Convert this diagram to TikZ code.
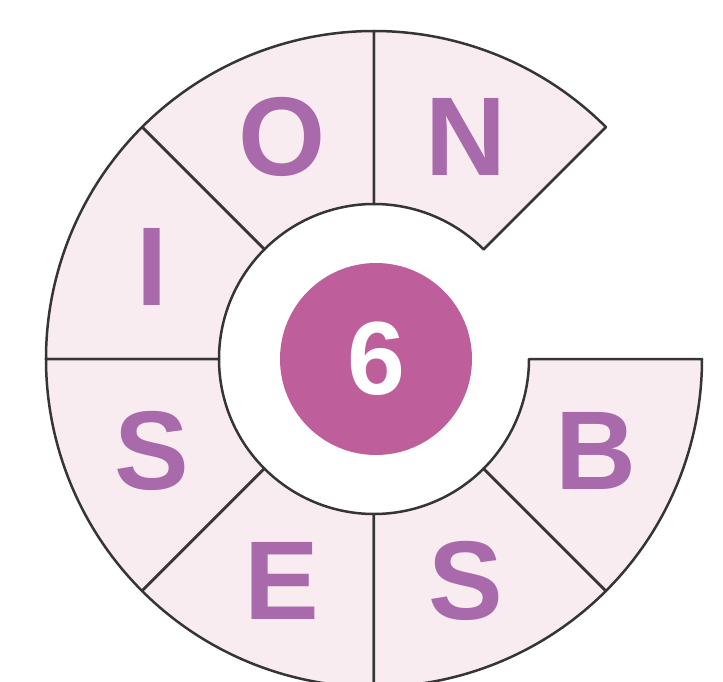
\documentclass[tikz,border=0pt]{standalone}
\usepackage{fontspec}
\setmainfont{Liberation Sans}
\definecolor{segfill}{HTML}{F8ECF0}
\definecolor{letterpurple}{HTML}{A86AAA}
\definecolor{hubpink}{HTML}{BE5F9C}
\definecolor{edgegray}{HTML}{353535}
\begin{document}
\begin{tikzpicture}[x=1pt,y=1pt,
  segment/.style={draw=edgegray, line width=2.5pt, fill=segfill, line join=round},
  letter/.style={text=letterpurple, font=\fontsize{112}{112}\selectfont\bfseries, inner sep=0pt},
  hub/.style={circle, fill=hubpink, minimum size=192pt, inner sep=0pt, text=white,
    font=\fontsize{104}{104}\selectfont\bfseries}]
\useasboundingbox (-374,-322) rectangle (349,359);
% ring of letter segments, gap between 0 and 45 degrees
\foreach \a in {45,90,...,315}
  \draw[segment] (\a:155) -- (\a:328)
    arc[start angle=\a, end angle=\a+45, radius=328]
    -- (\a+45:155)
    arc[start angle=\a+45, end angle=\a, radius=155] -- cycle;
% letters
\foreach \a/\l/\n in {45/N/n, 90/O/o, 135/I/i, 180/S/sa, 225/E/e, 270/S/sb, 315/B/b}
  \node[letter] (let-\n) at (\a+22.5:240) {\l};
% centre
\node[hub] (hub) at (2,0) {6};
\end{tikzpicture}
\end{document}
